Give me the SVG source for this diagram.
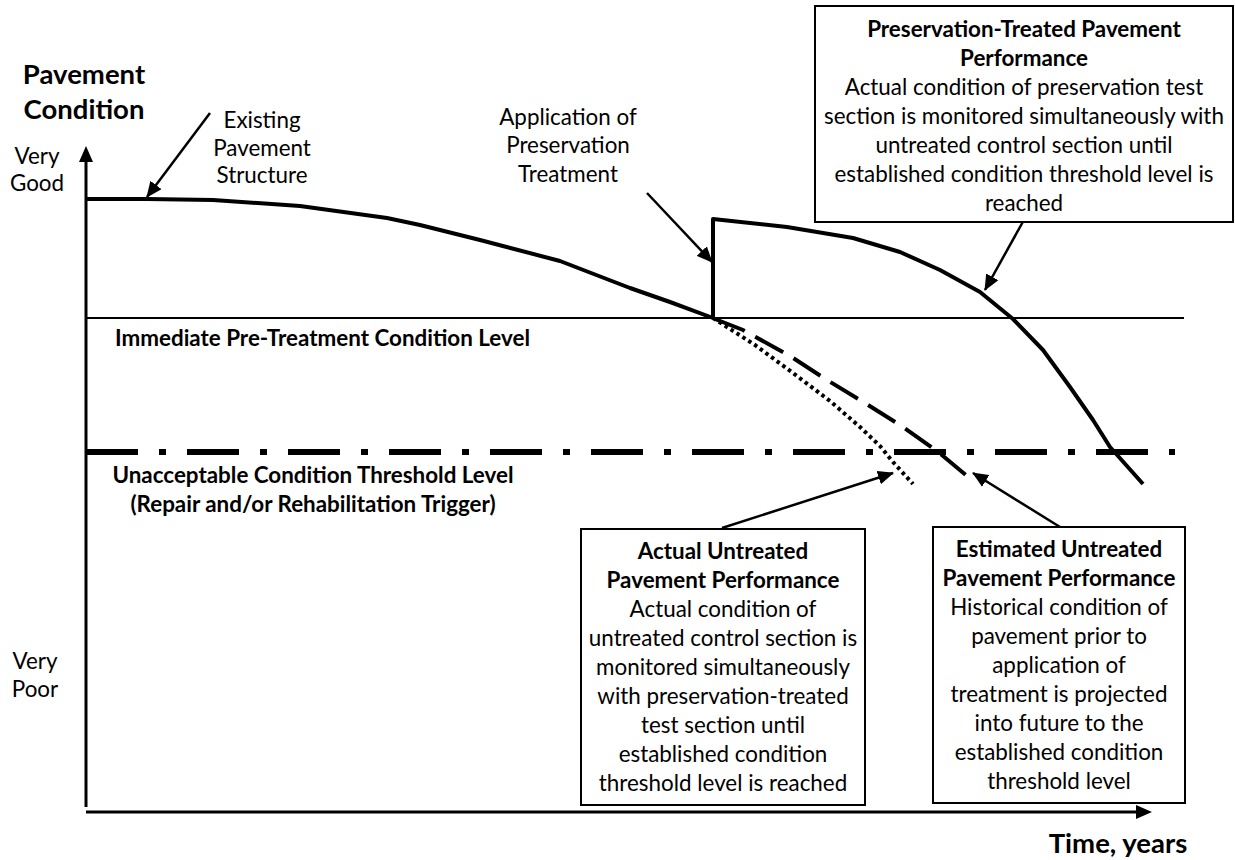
<svg xmlns="http://www.w3.org/2000/svg" width="1235" height="860" viewBox="0 0 1235 860">
<style>
  text { font-family: Lato, "Liberation Sans", sans-serif; fill: #000; }
  .t { font-size: 22.4px; text-anchor: middle; }
  .b { font-size: 22.4px; font-weight: bold; }
  .bc { font-size: 22.4px; font-weight: bold; text-anchor: middle; }
  .title { font-size: 27.5px; font-weight: bold; text-anchor: middle; }
  .box { fill: #fff; stroke: #000; stroke-width: 2; }
  .curve { fill: none; stroke: #000; stroke-width: 4; stroke-linejoin: round; }
  .axis { fill: none; stroke: #000; stroke-width: 3; }
  .ptr { fill: none; stroke: #000; stroke-width: 2.5; marker-end: url(#ah); }
</style>
<defs>
  <marker id="ah" viewBox="0 0 16 14" refX="15" refY="7" markerWidth="16" markerHeight="14" markerUnits="userSpaceOnUse" orient="auto">
    <path d="M0,0 L16,7 L0,14 Z" fill="#000"/>
  </marker>
</defs>
<rect width="1235" height="860" fill="#fff"/>

<g id="axes">
  <line class="axis" x1="86" y1="807" x2="86" y2="160"/>
  <path d="M86,146 L93,162 L79,162 Z" fill="#000"/>
  <line class="axis" x1="86" y1="812" x2="1138" y2="812"/>
  <path d="M1152,812 L1136,805 L1136,819 Z" fill="#000"/>
</g>

<g id="levels">
  <line x1="86" y1="318" x2="1184" y2="318" stroke="#000" stroke-width="2"/>
  <line x1="86" y1="452" x2="1175" y2="452" stroke="#000" stroke-width="6" stroke-dasharray="52 21 7 21"/>
</g>

<g id="curves">
  <path id="existing" class="curve" d="M86,199 L147,199 L213,200 L300,206 L387,218 L420,225 L480,240 L560,261 L630,288 L670,302 L713,318"/>
  <path id="treated" class="curve" d="M713,318 L713,219 L787,227 L853,238 L900,252 L940,270 L980,292 L1013,319 L1043,350 L1070,387 L1093,420 L1110,447 L1143,484"/>
  <path id="estimated" fill="none" stroke="#000" stroke-width="4" stroke-dasharray="32 12" d="M715,319 L743,330 L790,356 L827,380 L865,403 L903,427 L937,451 L967,476"/>
  <path id="actual" fill="none" stroke="#000" stroke-width="4" stroke-dasharray="3.5 3.5" d="M713,318 L755,345 L793,373 L830,401 L860,427 L880,446 L893,462 L913,484"/>
</g>

<g id="connectors">
  <line class="ptr" x1="210" y1="113" x2="147" y2="197"/>
  <line class="ptr" x1="647" y1="193" x2="712" y2="262"/>
  <line class="ptr" x1="1025" y1="218" x2="985" y2="290"/>
  <line class="ptr" x1="722" y1="528" x2="893" y2="473"/>
  <line class="ptr" x1="1060" y1="527" x2="973" y2="473"/>
</g>

<g id="y-axis-title">
  <text class="title" x="84" y="84">Pavement</text>
  <text class="title" x="84" y="119">Condition</text>
</g>
<g id="very-good">
  <text class="t" x="37" y="164">Very</text>
  <text class="t" x="37" y="191">Good</text>
</g>
<g id="very-poor">
  <text class="t" x="35" y="669">Very</text>
  <text class="t" x="35" y="697">Poor</text>
</g>
<g id="x-axis-title">
  <text class="title" x="1118" y="853">Time, years</text>
</g>

<g id="existing-label">
  <text class="t" x="262" y="128">Existing</text>
  <text class="t" x="262" y="155.5">Pavement</text>
  <text class="t" x="262" y="183">Structure</text>
</g>
<g id="application-label">
  <text class="t" x="568" y="125">Application of</text>
  <text class="t" x="568" y="153">Preservation</text>
  <text class="t" x="568" y="182">Treatment</text>
</g>

<g id="pretreatment-label">
  <text class="b" x="115" y="346">Immediate Pre-Treatment Condition Level</text>
</g>
<g id="threshold-label">
  <text class="bc" x="313" y="483">Unacceptable Condition Threshold Level</text>
  <text class="bc" x="313" y="512">(Repair and/or Rehabilitation Trigger)</text>
</g>

<g id="preservation-box">
  <rect class="box" x="815" y="6" width="418" height="216"/>
  <text class="bc" x="1024" y="36.5">Preservation-Treated Pavement</text>
  <text class="bc" x="1024" y="65.5">Performance</text>
  <text class="t" x="1024" y="94.5">Actual condition of preservation test</text>
  <text class="t" x="1024" y="123.5">section is monitored simultaneously with</text>
  <text class="t" x="1024" y="152.5">untreated control section until</text>
  <text class="t" x="1024" y="181.5">established condition threshold level is</text>
  <text class="t" x="1024" y="210.5">reached</text>
</g>

<g id="actual-box">
  <rect class="box" x="581" y="529" width="284" height="276"/>
  <text class="bc" x="723" y="559">Actual Untreated</text>
  <text class="bc" x="723" y="588">Pavement Performance</text>
  <text class="t" x="723" y="617">Actual condition of</text>
  <text class="t" x="723" y="646">untreated control section is</text>
  <text class="t" x="723" y="675">monitored simultaneously</text>
  <text class="t" x="723" y="704">with preservation-treated</text>
  <text class="t" x="723" y="733">test section until</text>
  <text class="t" x="723" y="762">established condition</text>
  <text class="t" x="723" y="791">threshold level is reached</text>
</g>

<g id="estimated-box">
  <rect class="box" x="933" y="527" width="252" height="276"/>
  <text class="bc" x="1059" y="557">Estimated Untreated</text>
  <text class="bc" x="1059" y="586">Pavement Performance</text>
  <text class="t" x="1059" y="615">Historical condition of</text>
  <text class="t" x="1059" y="644">pavement prior to</text>
  <text class="t" x="1059" y="673">application of</text>
  <text class="t" x="1059" y="702">treatment is projected</text>
  <text class="t" x="1059" y="731">into future to the</text>
  <text class="t" x="1059" y="760">established condition</text>
  <text class="t" x="1059" y="789">threshold level</text>
</g>
</svg>
